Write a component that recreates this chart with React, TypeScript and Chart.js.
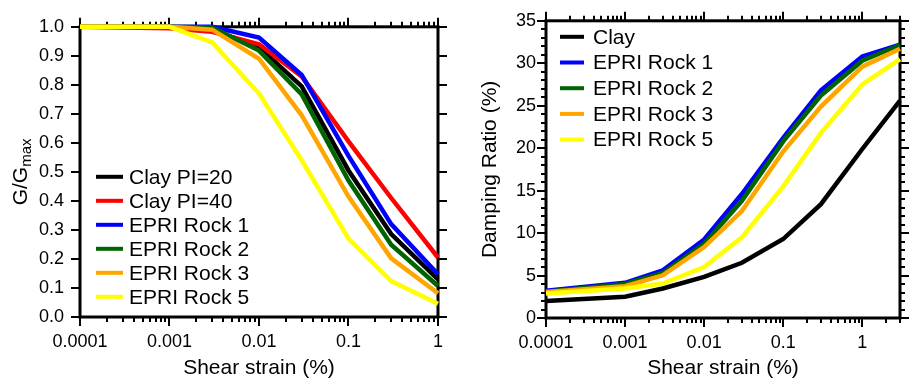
import React, { useEffect, useRef } from "react";
import { Chart, registerables } from "chart.js";

Chart.register(...registerables);

const FONT = "'Liberation Sans', Arial, Helvetica, sans-serif";

// ---------- Left panel: G/Gmax ----------
const strainG = [0.0001, 0.0003, 0.001, 0.003, 0.01, 0.03, 0.1, 0.3, 1];
const clayPI20 = [1.0, 1.0, 1.0, 0.99, 0.93, 0.795, 0.505, 0.286, 0.13];
const clayPI40 = [1.0, 0.998, 0.995, 0.983, 0.94, 0.829, 0.605, 0.41, 0.205];
const epriRock1G = [1.0, 1.0, 1.0, 1.0, 0.963, 0.834, 0.555, 0.32, 0.147];
const epriRock2G = [1.0, 1.0, 1.0, 0.998, 0.918, 0.767, 0.47, 0.249, 0.107];
const epriRock3G = [1.0, 1.0, 1.0, 0.99, 0.89, 0.695, 0.415, 0.202, 0.082];
const epriRock5G = [1.0, 1.0, 1.0, 0.946, 0.77, 0.54, 0.27, 0.124, 0.046];
const labelsG = ["Clay PI=20", "Clay PI=40", "EPRI Rock 1", "EPRI Rock 2", "EPRI Rock 3", "EPRI Rock 5"];
const colorsG = ["#000000", "#ff0000", "#0000ff", "#006400", "#ffa500", "#ffff00"];
const gTicks = [0, 0.1, 0.2, 0.3, 0.4, 0.5, 0.6, 0.7, 0.8, 0.9, 1.0];

// ---------- Right panel: Damping ----------
const strainD = [0.0001, 0.001, 0.003, 0.01, 0.03, 0.1, 0.3, 1, 3];
const clayD = [2.0, 2.5, 3.47, 4.84, 6.5, 9.3, 13.4, 19.9, 25.6];
const epriRock1D = [3.2, 4.14, 5.62, 9.25, 14.6, 21.2, 26.8, 30.8, 32.2];
const epriRock2D = [3.1, 4.0, 5.3, 8.74, 13.8, 20.8, 26.2, 30.3, 32.15];
const epriRock3D = [3.05, 3.75, 5.03, 8.35, 12.6, 19.6, 24.9, 29.6, 31.7];
const epriRock5D = [2.89, 3.47, 4.06, 6.0, 9.5, 15.5, 21.8, 27.5, 30.5];
const labelsD = ["Clay", "EPRI Rock 1", "EPRI Rock 2", "EPRI Rock 3", "EPRI Rock 5"];
const colorsD = ["#000000", "#0000ff", "#006400", "#ffa500", "#ffff00"];
const dMajor = [0, 5, 10, 15, 20, 25, 30, 35];

function fmtPow10(v: number): string {
  const l = Math.log10(v);
  const e = Math.round(l);
  if (Math.abs(l - e) > 1e-6) return "";
  return e >= 0 ? String(Math.pow(10, e)) : Math.pow(10, e).toFixed(-e);
}

function framePlugin(yMajor: number[], yMinorStep: number | null) {
  return {
    id: "frameTicks",
    beforeDatasetsDraw(chart: any) {
      const { ctx, chartArea } = chart;
      const { left, right, top, bottom } = chartArea;
      const xs = chart.scales.x;
      const ys = chart.scales.y;
      ctx.save();
      ctx.strokeStyle = "#000";
      ctx.lineWidth = 2;
      ctx.beginPath();
      const xmin = xs.min;
      const xmax = xs.max;
      for (let d = Math.floor(Math.log10(xmin)); d <= Math.ceil(Math.log10(xmax)); d++) {
        for (let m = 1; m <= 9; m++) {
          const v = m * Math.pow(10, d);
          if (v < xmin * 0.9999 || v > xmax * 1.0001) continue;
          const px = Math.round(xs.getPixelForValue(v));
          const len = m === 1 ? 9 : 5;
          ctx.moveTo(px, bottom);
          ctx.lineTo(px, bottom + len);
          ctx.moveTo(px, top);
          ctx.lineTo(px, top - len);
        }
      }
      for (const v of yMajor) {
        const py = Math.round(ys.getPixelForValue(v));
        ctx.moveTo(left, py);
        ctx.lineTo(left - 9, py);
        ctx.moveTo(right, py);
        ctx.lineTo(right + 9, py);
      }
      if (yMinorStep) {
        for (let v = ys.min; v <= ys.max + 1e-9; v += yMinorStep) {
          const py = Math.round(ys.getPixelForValue(v));
          ctx.moveTo(left, py);
          ctx.lineTo(left - 5, py);
          ctx.moveTo(right, py);
          ctx.lineTo(right + 5, py);
        }
      }
      ctx.stroke();
      ctx.lineWidth = 3;
      ctx.strokeRect(left, top, right - left, bottom - top);
      ctx.restore();
    },
  };
}

function legendPlugin(opts: { dx0: number; dx1: number; tx: number; y0: number; dy: number }) {
  return {
    id: "customLegend",
    afterDraw(chart: any) {
      const { ctx, chartArea } = chart;
      ctx.save();
      ctx.font = `21px ${FONT}`;
      ctx.textBaseline = "middle";
      ctx.textAlign = "left";
      chart.data.datasets.forEach((ds: any, i: number) => {
        const y = chartArea.top + opts.y0 + i * opts.dy;
        ctx.strokeStyle = ds.borderColor;
        ctx.lineWidth = 4;
        ctx.beginPath();
        ctx.moveTo(chartArea.left + opts.dx0, y);
        ctx.lineTo(chartArea.left + opts.dx1, y);
        ctx.stroke();
        ctx.fillStyle = "#000";
        ctx.fillText(ds.label, chartArea.left + opts.tx, y + 1);
      });
      ctx.restore();
    },
  };
}

const gTitlePlugin = {
  id: "gTitle",
  afterDraw(chart: any) {
    const { ctx, chartArea } = chart;
    const cy = (chartArea.top + chartArea.bottom) / 2;
    ctx.save();
    ctx.translate(26.5, cy);
    ctx.rotate(-Math.PI / 2);
    ctx.fillStyle = "#000";
    ctx.textBaseline = "alphabetic";
    ctx.textAlign = "left";
    ctx.font = `21px ${FONT}`;
    const w1 = ctx.measureText("G/G").width;
    ctx.font = `15px ${FONT}`;
    const w2 = ctx.measureText("max").width;
    const start = -(w1 + w2) / 2;
    ctx.font = `21px ${FONT}`;
    ctx.fillText("G/G", start, 0);
    ctx.font = `15px ${FONT}`;
    ctx.fillText("max", start + w1, 4);
    ctx.restore();
  },
};

function makeDatasets(xs: number[], series: number[][], labels: string[], colors: string[]) {
  return series.map((s, i) => ({
    label: labels[i],
    data: s.map((v, j) => ({ x: xs[j], y: v })),
    borderColor: colors[i],
    backgroundColor: colors[i],
    borderWidth: 4.5,
    pointRadius: 0,
    tension: 0,
    fill: false,
    order: series.length - i,
    clip: false as any,
  }));
}

function xScale(max: number, height: number) {
  return {
    type: "logarithmic" as const,
    min: 0.0001,
    max,
    grid: { display: false, drawTicks: false },
    border: { display: false },
    ticks: {
      autoSkip: false,
      maxRotation: 0,
      minRotation: 0,
      padding: 14,
      color: "#000",
      font: { size: 18, family: FONT },
      callback: (v: any) => fmtPow10(Number(v)),
    },
    title: {
      display: true,
      text: "Shear strain (%)",
      color: "#000",
      font: { size: 21, family: FONT },
      padding: 0,
    },
    afterFit: (s: any) => {
      s.height = height;
    },
  };
}

function GChart() {
  const ref = useRef<HTMLCanvasElement>(null);
  useEffect(() => {
    if (!ref.current) return;
    const chart = new Chart(ref.current, {
      type: "line",
      data: {
        datasets: makeDatasets(
          strainG,
          [clayPI20, clayPI40, epriRock1G, epriRock2G, epriRock3G, epriRock5G],
          labelsG,
          colorsG
        ) as any,
      },
      options: {
        animation: false,
        responsive: true,
        maintainAspectRatio: false,
        layout: { padding: { left: 0, right: 18, top: 19, bottom: 0 } },
        plugins: { legend: { display: false }, tooltip: { enabled: false } },
        scales: {
          x: xScale(1, 64) as any,
          y: {
            type: "linear",
            min: 0,
            max: 1,
            grid: { display: false, drawTicks: false },
            border: { display: false },
            afterBuildTicks: (s: any) => {
              s.ticks = gTicks.map((v) => ({ value: v }));
            },
            ticks: {
              padding: 16,
              color: "#000",
              font: { size: 18, family: FONT },
              callback: (v: any) => Number(v).toFixed(1),
            },
            afterFit: (s: any) => {
              s.width = 80;
            },
          } as any,
        },
      },
      plugins: [
        framePlugin(gTicks, null),
        legendPlugin({ dx0: 16, dx1: 43, tx: 49, y0: 150, dy: 24 }),
        gTitlePlugin,
      ],
    });
    return () => chart.destroy();
  }, []);
  return (
    <div style={{ position: "absolute", left: 0, top: 0, width: 457, height: 381 }}>
      <canvas ref={ref} />
    </div>
  );
}

function DChart() {
  const ref = useRef<HTMLCanvasElement>(null);
  useEffect(() => {
    if (!ref.current) return;
    const chart = new Chart(ref.current, {
      type: "line",
      data: {
        datasets: makeDatasets(
          strainD,
          [clayD, epriRock1D, epriRock2D, epriRock3D, epriRock5D],
          labelsD,
          colorsD
        ) as any,
      },
      options: {
        animation: false,
        responsive: true,
        maintainAspectRatio: false,
        layout: { padding: { left: 0, right: 9, top: 19, bottom: 0 } },
        plugins: { legend: { display: false }, tooltip: { enabled: false } },
        scales: {
          x: xScale(3, 63) as any,
          y: {
            type: "linear",
            min: 0,
            max: 35,
            grid: { display: false, drawTicks: false },
            border: { display: false },
            afterBuildTicks: (s: any) => {
              s.ticks = dMajor.map((v) => ({ value: v }));
            },
            ticks: {
              padding: 10,
              color: "#000",
              font: { size: 18, family: FONT },
              callback: (v: any) => String(v),
            },
            title: {
              display: true,
              text: "Damping Ratio (%)",
              color: "#000",
              font: { size: 21, family: FONT },
              padding: { top: 21, bottom: 0 },
            },
            afterFit: (s: any) => {
              s.width = 89;
            },
          } as any,
        },
      },
      plugins: [
        framePlugin(dMajor, 1),
        legendPlugin({ dx0: 14, dx1: 38, tx: 47, y0: 16, dy: 25.7 }),
      ],
    });
    return () => chart.destroy();
  }, []);
  return (
    <div style={{ position: "absolute", left: 457, top: 0, width: 457, height: 381 }}>
      <canvas ref={ref} />
    </div>
  );
}

export default function App() {
  return (
    <div style={{ position: "absolute", left: 0, top: 0, width: 914, height: 381, background: "#fff" }}>
      <GChart />
      <DChart />
    </div>
  );
}
